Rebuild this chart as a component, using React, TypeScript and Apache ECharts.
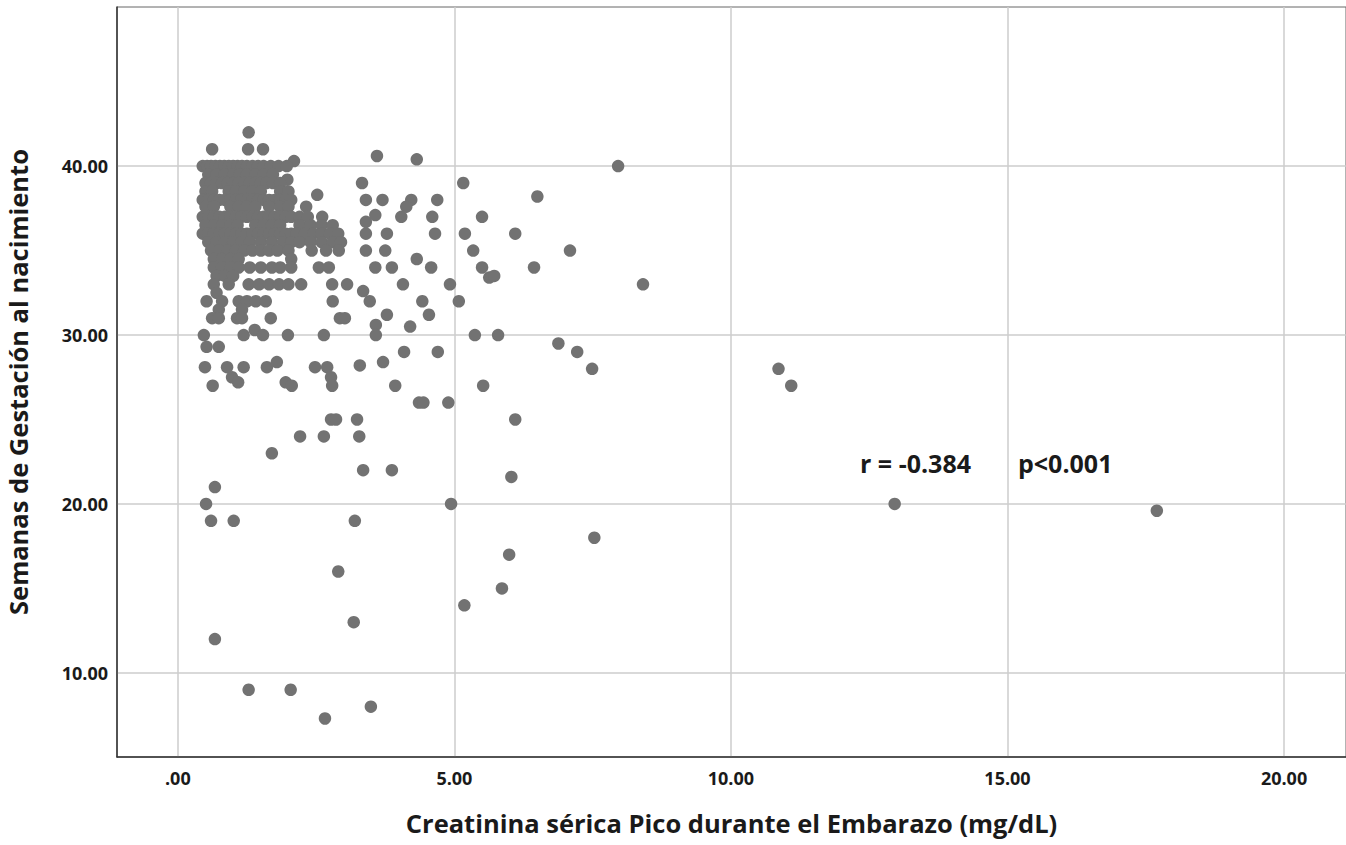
import React, { useEffect, useRef } from "react";
import * as echarts from "echarts";

// Peak serum creatinine (mg/dL) vs. gestational age at birth (weeks).
// Each row: [weeks, creatinine values observed at that gestational age]
const clusterRows: [number, number[]][] = [
  [42, [1.28]],
  [41, [0.62, 1.27, 1.54]],
  [40.3, [2.1]],
  [40, [0.45, 0.53, 0.6, 0.68, 0.76, 0.84, 0.92, 1.0, 1.08, 1.16, 1.25, 1.35, 1.45, 1.55, 1.68, 1.82, 1.97]],
  [39.5, [0.55, 0.7, 0.85, 1.0, 1.12, 1.25, 1.4, 1.55, 1.72]],
  [39.2, [1.98]],
  [39, [0.5, 0.6, 0.7, 0.8, 0.9, 1.0, 1.1, 1.2, 1.3, 1.4, 1.5, 1.6, 1.72, 1.85]],
  [38.5, [0.5, 0.62, 0.92, 1.05, 1.2, 1.35, 1.5, 1.85, 2.0]],
  [38.3, [2.52]],
  [38, [0.45, 0.55, 0.65, 0.75, 0.85, 0.95, 1.05, 1.15, 1.25, 1.35, 1.45, 1.55, 1.65, 1.75, 1.85, 1.95, 2.05]],
  [37.6, [0.5, 0.65, 0.95, 1.1, 1.25, 1.4, 1.65, 1.85, 2.0, 2.32]],
  [37, [0.45, 0.55, 0.65, 0.75, 0.85, 0.95, 1.05, 1.15, 1.25, 1.35, 1.45, 1.55, 1.65, 1.75, 1.85, 1.95, 2.05, 2.2, 2.35, 2.61]],
  [36.5, [0.5, 0.65, 0.8, 0.95, 1.08, 1.4, 1.55, 1.7, 1.85, 2.2, 2.4, 2.6, 2.8]],
  [36, [0.45, 0.55, 0.65, 0.75, 0.85, 0.95, 1.05, 1.15, 1.25, 1.35, 1.45, 1.55, 1.65, 1.75, 1.85, 1.95, 2.05, 2.15, 2.3, 2.45, 2.6, 2.75, 2.9]],
  [35.5, [0.55, 0.7, 0.85, 1.0, 1.15, 1.3, 1.5, 1.7, 1.9, 2.05, 2.2, 2.4, 2.6, 2.8, 2.95]],
  [35, [0.6, 0.75, 0.9, 1.05, 1.2, 1.35, 1.5, 1.65, 1.8, 2.0, 2.42, 2.68, 2.91]],
  [34.5, [0.65, 0.8, 0.95, 1.1, 2.05]],
  [34, [0.65, 0.8, 0.95, 1.1, 1.3, 1.5, 1.7, 1.85, 2.05, 2.55, 2.73]],
  [33.5, [0.7, 0.85, 1.0]],
  [33, [0.65, 0.92, 1.28, 1.47, 1.65, 1.83, 2.0, 2.23, 2.79, 3.06]],
  [32.5, [0.7]],
  [32, [0.52, 0.8, 1.1, 1.25, 1.41, 1.59, 2.8]],
  [31.5, [0.74, 1.16]],
  [31, [0.62, 0.74, 1.07, 1.16, 1.68, 2.93, 3.02]],
  [30.3, [1.39]],
  [30, [0.47, 1.19, 1.54, 1.99, 2.64]],
  [29.3, [0.52, 0.74]],
  [28.4, [1.79]],
  [28.1, [0.49, 0.89, 1.19, 1.61, 2.48, 2.7]],
  [27.5, [0.98, 2.77]],
  [27.2, [1.09, 1.95]],
  [27, [0.63, 2.06, 2.79]],
];

// Scattered cases: [creatinine, weeks]
const midRangeCases: [number, number][] = [
  [3.6, 40.6], [4.32, 40.4], [7.96, 40], [3.33, 39], [5.16, 39], [6.5, 38.2],
  [3.4, 38], [3.7, 38], [4.22, 38], [4.69, 38], [4.13, 37.6], [4.04, 37],
  [3.57, 37.1], [4.6, 37], [5.5, 37], [3.4, 36.7], [3.4, 36], [3.78, 36],
  [4.65, 36], [5.19, 36], [6.1, 36], [3.4, 35], [3.75, 35], [5.34, 35],
  [7.09, 35], [4.32, 34.5], [3.57, 34], [3.87, 34], [4.58, 34], [5.5, 34],
  [6.44, 34], [5.63, 33.4], [5.72, 33.5], [4.07, 33], [4.92, 33], [8.41, 33],
  [3.35, 32.6], [3.47, 32], [4.42, 32], [5.08, 32], [3.78, 31.2], [4.54, 31.2],
  [3.58, 30.6], [4.2, 30.5], [3.58, 30], [5.37, 30], [5.79, 30], [6.88, 29.5],
  [4.09, 29], [4.7, 29], [7.22, 29], [3.29, 28.2], [3.71, 28.4], [7.49, 28],
  [3.93, 27], [5.52, 27], [4.36, 26], [4.44, 26], [4.89, 26], [3.24, 25],
  [6.1, 25], [3.28, 24], [3.35, 22], [3.87, 22], [6.03, 21.6], [4.94, 20],
  [3.2, 19], [7.53, 18], [5.99, 17], [5.86, 15], [5.18, 14], [3.18, 13], [3.49, 8],
];

const pretermCases: [number, number][] = [
  [2.77, 25], [2.86, 25], [2.21, 24], [2.64, 24], [1.7, 23], [0.67, 21],
  [0.51, 20], [0.6, 19], [1.01, 19], [2.9, 16], [0.67, 12], [1.28, 9],
  [2.04, 9], [2.66, 7.3],
];

const highCreatinineCases: [number, number][] = [
  [10.86, 28], [11.09, 27], [12.96, 20], [17.7, 19.6],
];

const xTicks = [0, 5, 10, 15, 20];
const yTicks = [10, 20, 30, 40];

const correlationText = "r = -0.384";
const pValueText = "p<0.001";

const FONT = "'Open Sans', 'Liberation Sans', sans-serif";

function spssNumber(v: number): string {
  const s = v.toFixed(2);
  return s.startsWith("0.") ? s.slice(1) : s;
}

export default function App() {
  const ref = useRef<HTMLDivElement>(null);

  useEffect(() => {
    document.body.style.margin = "0";
    if (!ref.current) return;
    const chart = echarts.init(ref.current, undefined, { renderer: "svg" });

    const points: [number, number][] = [];
    clusterRows.forEach(([w, xs]) => xs.forEach((x) => points.push([x, w])));
    midRangeCases.forEach((p) => points.push(p));
    pretermCases.forEach((p) => points.push(p));
    highCreatinineCases.forEach((p) => points.push(p));

    const titleStyle = { fontFamily: FONT, fontWeight: "bold", fontSize: 25.5, color: "#1a1a1a" };
    const tickStyle = { fontFamily: FONT, fontWeight: "bold", fontSize: 18, color: "#1a1a1a" };
    const noteStyle = { fontFamily: FONT, fontWeight: "bold", fontSize: 25, fill: "#1a1a1a" };

    chart.setOption({
      animation: false,
      backgroundColor: "#ffffff",
      grid: {
        left: 117,
        right: 0,
        top: 7,
        bottom: 88,
        show: true,
        borderColor: "#666",
        borderWidth: 1,
        outerBoundsMode: "none",
        containLabel: false,
      },
      xAxis: {
        type: "value",
        min: -1.1,
        max: 21.12,
        name: "Creatinina sérica Pico durante el Embarazo (mg/dL)",
        nameLocation: "middle",
        nameGap: 53,
        nameTextStyle: titleStyle,
        axisLine: { show: true, onZero: false, lineStyle: { color: "#333", width: 1.5 } },
        axisTick: { show: false, customValues: xTicks },
        axisLabel: {
          customValues: xTicks,
          formatter: (v: number) => spssNumber(v),
          margin: 12,
          ...tickStyle,
        },
        splitLine: { show: true, lineStyle: { color: "#cdcdcd", width: 1.5 } },
      },
      yAxis: {
        type: "value",
        min: 5.02,
        max: 49.42,
        name: "Semanas de Gestación al nacimiento",
        nameLocation: "middle",
        nameGap: 86,
        nameTextStyle: titleStyle,
        axisLine: { show: true, onZero: false, lineStyle: { color: "#333", width: 1.5 } },
        axisTick: { show: false, customValues: yTicks },
        axisLabel: {
          customValues: yTicks,
          formatter: (v: number) => spssNumber(v),
          margin: 9,
          ...tickStyle,
        },
        splitLine: { show: true, lineStyle: { color: "#cdcdcd", width: 1.5 } },
      },
      series: [
        {
          type: "scatter",
          data: points,
          symbol: "circle",
          symbolSize: 12.5,
          itemStyle: { color: "#727272", opacity: 1 },
          emphasis: { disabled: true },
        },
      ],
      graphic: [
        {
          type: "text",
          left: 860,
          top: 450,
          style: { text: correlationText, ...noteStyle },
        },
        {
          type: "text",
          left: 1018,
          top: 450,
          style: { text: pValueText, ...noteStyle },
        },
      ],
    });

    return () => chart.dispose();
  }, []);

  return <div ref={ref} style={{ width: 1346, height: 845 }} />;
}
